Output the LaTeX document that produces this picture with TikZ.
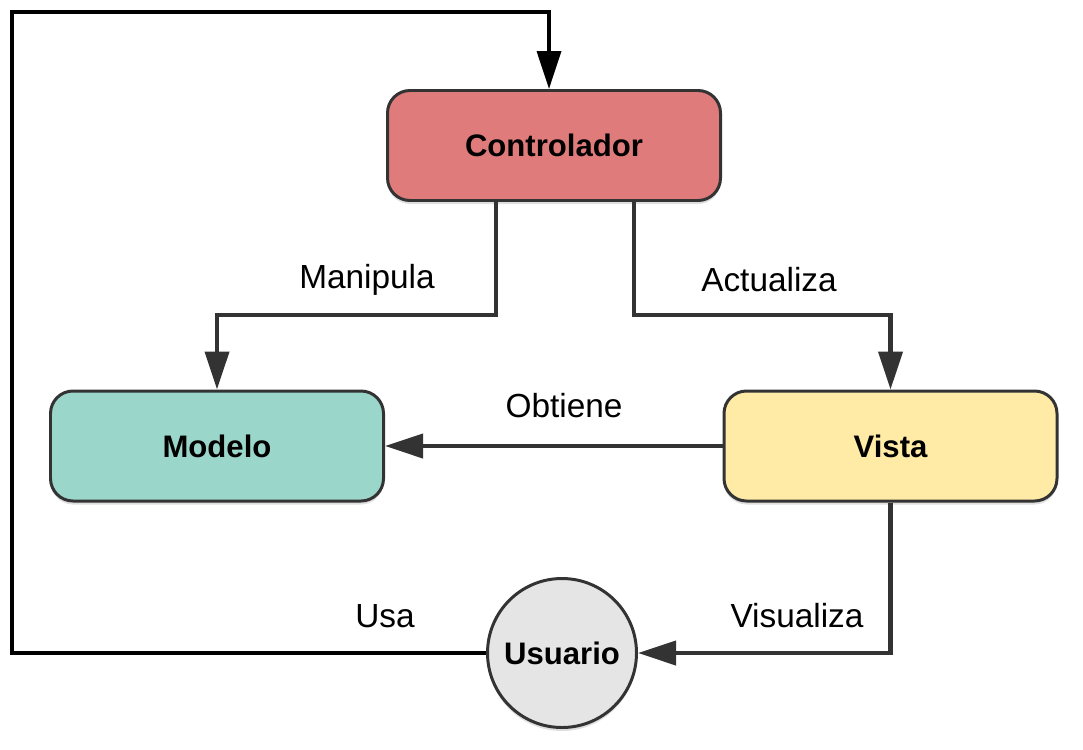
\documentclass[tikz,border=0pt]{standalone}
\usepackage{fontspec}
\setmainfont{Liberation Sans}
\usepackage{tikz}
\usetikzlibrary{arrows,arrows.meta,shapes,backgrounds,positioning,fit,shadows,scopes}

\definecolor{ctrlred}{HTML}{E07B7B}
\definecolor{modteal}{HTML}{9BD6CB}
\definecolor{vistayel}{HTML}{FFEBA6}
\definecolor{usergray}{HTML}{E5E5E5}
\definecolor{linegray}{HTML}{333333}

\begin{document}
\begin{tikzpicture}[
    box/.style={draw=linegray,line width=1.7pt,rounded corners=.45cm,
      minimum width=6.66cm,minimum height=2.2cm,
      font=\fontsize{17.7}{20}\selectfont\bfseries,
      drop shadow={opacity=.25,shadow xshift=0,shadow yshift=-.07}},
    conn/.style={draw=linegray,line width=2.3pt,-{Triangle[length=.76cm,width=.48cm]}},
    lbl/.style={font=\fontsize{19}{22}\selectfont}]
    \useasboundingbox (0,0) rectangle (21.66,-14.98);

    \node[box,fill=ctrlred] (ctrl) at (11.08,-2.91) {Controlador};
    \node[box,fill=modteal] (modelo) at (4.34,-8.92) {Modelo};
    \node[box,fill=vistayel] (vista) at (17.81,-8.92) {Vista};
    \node[box,circle,rounded corners=0,fill=usergray,minimum width=2.98cm,
      inner sep=0] (usuario) at (11.24,-13.06) {Usuario};

    \coordinate (ll) at (.24,-13.06);
    \coordinate (ul) at (.24,-.24);

    \draw[conn] ([xshift=-1.16cm]ctrl.south) -- ++(0,-2.26) -| (modelo.north);
    \draw[conn] ([xshift=1.6cm]ctrl.south) -- ++(0,-2.26) -| (vista.north);
    \draw[conn] (vista.west) -- (modelo.east);
    \draw[conn] (vista.south) |- (usuario.east);
    \draw[conn,draw=black,line width=2pt] (usuario.west) -- (ll) -- (ul)
      -| ([xshift=-.1cm]ctrl.north);

    \node[lbl] (manip) at (7.34,-5.6) {Manipula};
    \node[lbl] (actual) at (15.38,-5.6) {Actualiza};
    \node[lbl] (obt) at (11.28,-8.12) {Obtiene};
    \node[lbl] (visu) at (15.94,-12.32) {Visualiza};
    \node[lbl] (usa) at (7.70,-12.32) {Usa};
\end{tikzpicture}
\end{document}
